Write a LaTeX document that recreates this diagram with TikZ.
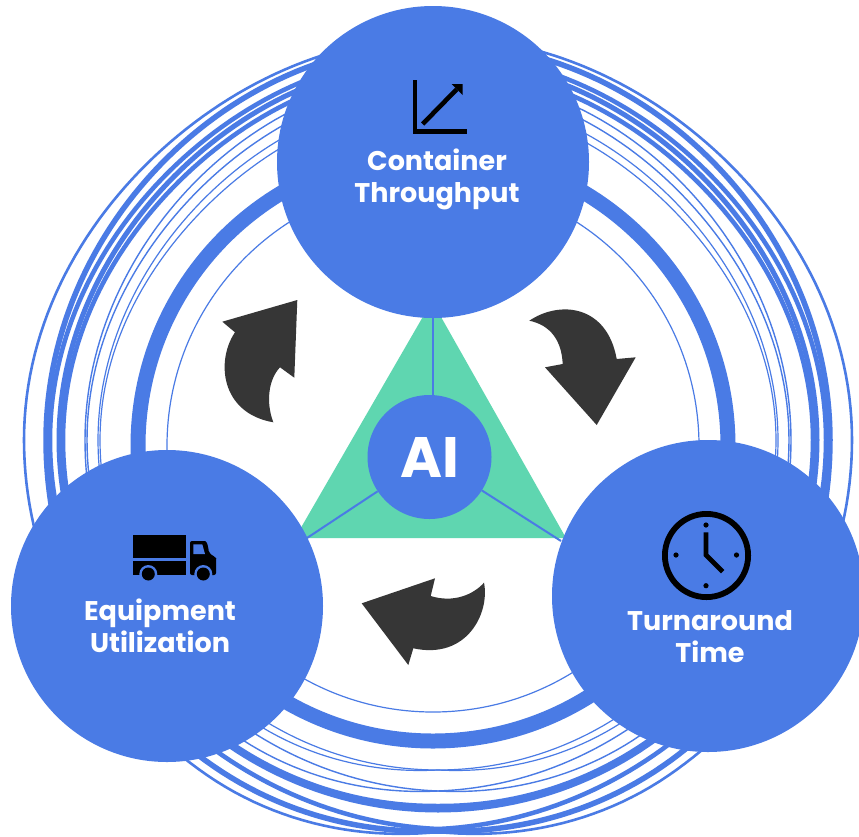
\documentclass[tikz,border=0pt]{standalone}
\usepackage{fontspec}
\setmainfont{Poppins}
\definecolor{kblue}{HTML}{4A7BE5}
\definecolor{kgreen}{HTML}{5FD6B0}
\definecolor{kdark}{HTML}{363636}
\tikzset{
  bigcircle/.style={circle,fill=kblue,minimum size=312pt,inner sep=0pt},
  aicircle/.style={circle,fill=kblue,minimum size=124pt,inner sep=0pt,text=white,font=\fontsize{57}{57}\selectfont\bfseries},
  captext/.style={align=center,text=white,inner sep=0pt,font=\fontsize{27}{32}\selectfont\bfseries},
  strand/.style={draw=kblue},
  spoke/.style={draw=kblue,line width=2pt},
  turnarrow/.style={fill=kdark},
  iconline/.style={draw=black,line width=4.6pt}
}
% radius of a strand: phi is measured from the bottom of the ring
\newcommand{\ringstrand}[6]{%
  \draw[strand,line width=#6pt,line join=miter] plot[domain=0:360,samples=241,
     declare function={
       aa(\p)=min(\p,360-\p);
       rr(\p)=ifthenelse(aa(\p)<35,
          #5+(#4-#5)*sin(90*aa(\p)/35),
          ifthenelse(aa(\p)<90,
            #4+(#1-#4)*(sin(90*(aa(\p)-35)/55))^2,
            #1+(#3-#1)*(sin(aa(\p)-90))^2+(#2-(#1+#3)/2)*(sin(2*(aa(\p)-90)))^2));
     }] ({rr(\x)*sin(\x)},{rr(\x)*cos(\x)});}
\begin{document}
\begin{tikzpicture}[x=1pt,y=-1pt]
\clip (0,0) rectangle (859,836);
\fill[white] (0,0) rectangle (859,836);
% outer strands
\begin{scope}[shift={(438,440)}]
\ringstrand{414}{401}{403}{407}{392}{2.6}
\ringstrand{392}{391}{397}{396}{391}{5.5}
\ringstrand{388}{380}{386}{382}{389}{4.5}
\ringstrand{379}{373}{380}{370}{370}{5}
\ringstrand{375}{366}{373}{367}{366}{4.5}
\ringstrand{353}{354}{365}{358}{351}{1.4}
\ringstrand{351}{346}{357}{346}{351}{1.4}
\ringstrand{340}{336}{345}{337}{330}{1.2}
\ringstrand{338}{329}{338}{330}{330}{1.2}
\end{scope}
% inner rings
\coordinate (rc) at (433,446);
\draw[kblue,line width=15pt] (rc) circle[radius=295pt];
\draw[kblue,line width=1.2pt] (rc) circle[radius=266pt];
% triangle
\fill[kgreen] (432,301) -- (295,538) -- (566,538) -- cycle;
% big circles
\node[bigcircle] (ct) at (433,162) {};
\node[bigcircle] (eu) at (167,606) {};
\node[bigcircle] (tt) at (708,596) {};
% AI hub and spokes
\node[aicircle] (ai) at (429.5,457) {AI};
\coordinate (sT) at (433,318);
\coordinate (sL) at (307,538);
\coordinate (sR) at (561,541);
\draw[spoke] (sT |- ai.north) -- (sT);
\draw[spoke] (ai) -- (sL);
\draw[spoke] (ai) -- (sR);
% turn arrows
\fill[turnarrow] (222.3,321.7) -- (297.3,300) -- (294.3,377.7) -- (280,367.3)
  .. controls (268,380) and (266,403) .. (273.3,422.3)
  .. controls (220,413) and (216,360) .. (235,332.3) -- cycle;
\fill[turnarrow] (529.3,320.7) .. controls (560,300) and (607,305) .. (616.7,359)
  -- (635.7,357.3) -- (596.7,425) -- (545,367.3) -- (562.7,364)
  .. controls (561.7,340) and (550,325) .. (529.3,320.7) -- cycle;
\fill[turnarrow] (361.7,603.3) -- (435,578.3) -- (430.7,596)
  .. controls (453,603) and (473,595) .. (484,582.7)
  .. controls (490,613) and (467,660) .. (413.3,648.3)
  -- (408.3,665) -- cycle;
% chart icon
\draw[iconline,line cap=butt,line join=miter] (415,80) -- (415,131.7) -- (466.7,131.7);
\draw[iconline] (422.7,124) -- (456.7,89.3);
\fill[black] (451.7,84) -- (462.7,84) -- (462.7,95) -- cycle;
% truck icon
\fill[black] (133.3,535) rectangle (186,557.7);
\fill[black] (133.3,561.3) rectangle (186,575);
\fill[black,rounded corners=2pt] (190,541) -- (203,541) .. controls (206,541) and (207,543) .. (208,546) -- (209,553) -- (215,557) .. controls (216,558) and (216,559) .. (216,561) -- (216,575) -- (190,575) -- cycle;
\fill[kblue] (193.3,544.3) -- (202.3,544.3) -- (205,554) -- (193.3,554) -- cycle;
\fill[kblue] (148.3,574) circle[radius=9pt];
\fill[kblue] (203.3,574) circle[radius=9pt];
\fill[black] (148.3,574) circle[radius=6.5pt];
\fill[black] (203.3,574) circle[radius=6.5pt];
% clock icon
\draw[black,line width=5.8pt] (706.5,555.5) circle[radius=41.6pt];
\foreach \p in {(706,525),(676,555),(736.5,555),(706,585.7)} \fill[black] \p circle[radius=2.6pt];
\draw[black,line width=4.8pt,line join=miter] (706,532.3) -- (706,555) -- (722.7,571.7);
% captions
\node[captext,anchor=base] (ctl) at (437,202) {Container\\Throughput};
\node[captext,anchor=base] (eul) at (160,652) {Equipment\\Utilization};
\node[captext,anchor=base] (ttl) at (710,662) {Turnaround\\Time};
\end{tikzpicture}
\end{document}
